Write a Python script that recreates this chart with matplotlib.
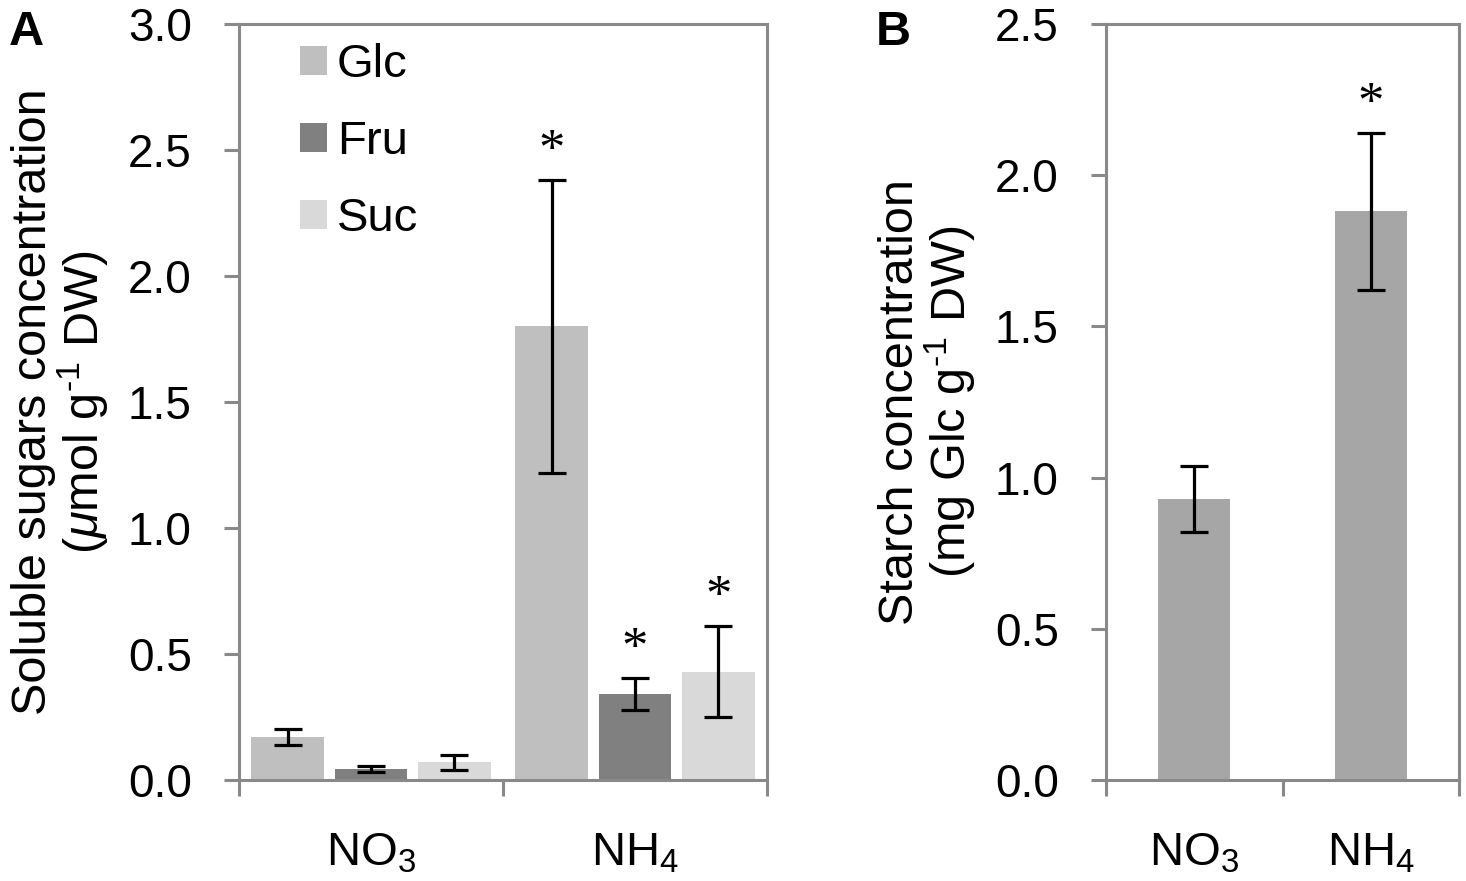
import matplotlib
matplotlib.use("Agg")
import matplotlib.pyplot as plt
from matplotlib.patches import Patch
import numpy as np

plt.rcParams['font.family'] = ['Liberation Sans', 'DejaVu Sans']
plt.rcParams['mathtext.fontset'] = 'custom'
plt.rcParams['mathtext.rm'] = 'Liberation Sans'
plt.rcParams['mathtext.it'] = 'Liberation Sans:italic'
plt.rcParams['mathtext.bf'] = 'Liberation Sans:bold'

# ---- data ----
categories = ['NO$_3$', 'NH$_4$']
sugars = ['Glc', 'Fru', 'Suc']
glc_mean = [0.17, 1.80]
glc_err = [0.032, 0.58]
fru_mean = [0.044, 0.341]
fru_err = [0.013, 0.064]
suc_mean = [0.071, 0.43]
suc_err = [0.03, 0.18]
glc_sig = [False, True]
fru_sig = [False, True]
suc_sig = [False, True]

starch_mean = [0.93, 1.88]
starch_err = [0.11, 0.26]
starch_sig = [False, True]

sugar_colors = ['#bfbfbf', '#808080', '#d9d9d9']
starch_color = '#a6a6a6'
spine_color = '#898989'

FS_TICK = 33
FS_LAB = 35
FS_CAT = 34
FS_LEG = 34
FS_STAR = 38

fig = plt.figure(figsize=(14.66, 8.81), dpi=100)
axA = fig.add_axes([239/1466, 1-780/881, 528/1466, 756/881])
axB = fig.add_axes([1106/1466, 1-780/881, 353/1466, 756/881])

def style_axes(ax, ncat):
    for s in ax.spines.values():
        s.set_color(spine_color)
        s.set_linewidth(2.2)
    ax.set_xlim(-0.5, ncat - 0.5)
    ax.set_xticks(np.arange(ncat + 1) - 0.5)
    ax.set_xticklabels([])
    ax.set_xticks(np.arange(ncat), minor=True)
    ax.set_xticklabels(categories, minor=True, fontsize=FS_CAT)
    ax.tick_params(axis='x', which='major', direction='out', length=11.5,
                   width=2.2, color=spine_color)
    ax.tick_params(axis='x', which='minor', length=0, pad=37)
    ax.tick_params(axis='y', direction='out', length=11, width=2.2,
                   color=spine_color, labelsize=FS_TICK, pad=23)

def star(ax, xi, top):
    ax.annotate('*', (xi, top), xytext=(0, 11), textcoords='offset points',
                ha='center', va='baseline', fontsize=FS_STAR,
                family=['Liberation Serif', 'DejaVu Serif'])

# ---- Panel A ----
x = np.arange(len(categories))
w = 0.276
off = 0.315
means = [glc_mean, fru_mean, suc_mean]
errs = [glc_err, fru_err, suc_err]
sigs = [glc_sig, fru_sig, suc_sig]
for i, (m, e, sg, c, lab) in enumerate(zip(means, errs, sigs, sugar_colors, sugars)):
    xp = x + (i - 1) * off
    axA.bar(xp, m, width=w, color=c, label=lab, zorder=2)
    axA.errorbar(xp, m, yerr=e, fmt='none', ecolor='black', elinewidth=2.3,
                 capsize=10.4, capthick=2.3, zorder=3)
    for xi, mi, ei, s in zip(xp, m, e, sg):
        if s:
            star(axA, xi, mi + ei)
axA.set_ylim(0, 3.0)
axA.set_yticks(np.arange(0, 3.01, 0.5))
axA.set_yticklabels([f'{v:.1f}' for v in np.arange(0, 3.01, 0.5)])
style_axes(axA, len(categories))
axA.set_ylabel('Soluble sugars concentration\n($\\mathit{\\mu}$mol g$^{\\text{-1}}$ DW)',
               fontsize=FS_LAB, linespacing=1.0, labelpad=12)

handles = [Patch(facecolor=c, edgecolor='none') for c in sugar_colors]
axA.legend(handles, sugars, loc='upper left', bbox_to_anchor=(0.097, 0.987),
           frameon=False, fontsize=FS_LEG, handlelength=0.57, handleheight=0.57,
           handletextpad=0.22, labelspacing=0.7, borderpad=0.2, borderaxespad=0)

# ---- Panel B ----
axB.bar(x, starch_mean, width=0.41, color=starch_color, zorder=2)
axB.errorbar(x, starch_mean, yerr=starch_err, fmt='none', ecolor='black',
             elinewidth=2.3, capsize=10.4, capthick=2.3, zorder=3)
for xi, mi, ei, s in zip(x, starch_mean, starch_err, starch_sig):
    if s:
        star(axB, xi, mi + ei)
axB.set_ylim(0, 2.5)
axB.set_yticks(np.arange(0, 2.51, 0.5))
axB.set_yticklabels([f'{v:.1f}' for v in np.arange(0, 2.51, 0.5)])
style_axes(axB, len(categories))
axB.set_ylabel('Starch concentration\n(mg Glc g$^{\\text{-1}}$ DW)',
               fontsize=FS_LAB, linespacing=1.0, labelpad=12)

fig.text(9/1466, 1-45/881, 'A', fontsize=35, fontweight='bold', ha='left', va='baseline')
fig.text(876/1466, 1-45/881, 'B', fontsize=35, fontweight='bold', ha='left', va='baseline')

fig.savefig('out.png', dpi=100)
